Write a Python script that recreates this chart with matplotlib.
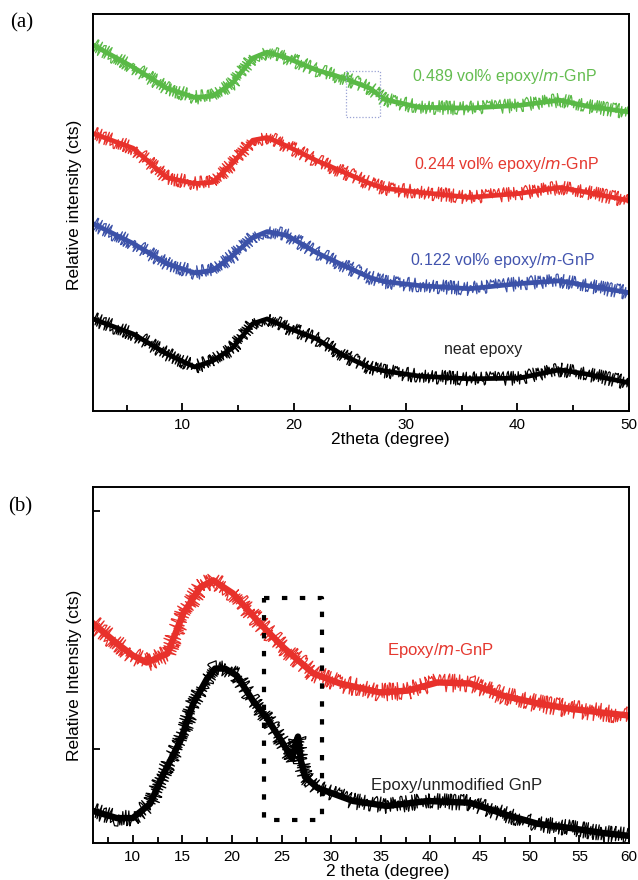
import matplotlib
matplotlib.use("Agg")
import matplotlib.pyplot as plt
from matplotlib.ticker import MultipleLocator, NullFormatter

plt.rcParams['font.family'] = ['Liberation Sans', 'DejaVu Sans']

# ---- Panel (a): XRD patterns of neat epoxy and epoxy/m-GnP composites ----
theta_a = [2.0, 5.6, 8.6, 11.1, 12.7, 14.5, 16.3, 17.6, 19.4, 22.0, 24.5,
           26.8, 28.1, 31.2, 35.7, 40.2, 43.8, 46.2, 50.0]
gnp_0489 = [92.2, 86.6, 81.3, 79.0, 79.3, 82.6, 88.9, 90.4, 88.9, 85.9, 83.8,
            81.3, 78.5, 76.5, 76.3, 77.0, 78.3, 76.8, 75.3]
gnp_0244 = [69.9, 66.2, 58.8, 57.3, 57.6, 62.4, 68.2, 68.9, 66.7, 63.1, 60.1,
            57.3, 56.1, 55.1, 53.8, 54.8, 56.3, 55.1, 53.0]
gnp_0122 = [47.2, 42.2, 37.1, 34.8, 35.4, 39.1, 43.7, 45.2, 44.2, 39.9, 36.6,
            33.6, 32.6, 31.6, 30.8, 32.1, 32.8, 31.6, 29.8]
neat_epoxy = [23.2, 19.4, 14.4, 11.1, 12.6, 15.9, 22.0, 23.2, 21.0, 18.2, 13.9,
              10.9, 10.1, 8.8, 8.1, 8.3, 10.4, 9.3, 7.1]
labels_a = ["0.489 vol% epoxy/$\\it{m}$-GnP", "0.244 vol% epoxy/$\\it{m}$-GnP",
            "0.122 vol% epoxy/$\\it{m}$-GnP", "neat epoxy"]

# ---- Panel (b): modified vs unmodified GnP ----
theta_b_mod = [6.0, 8.4, 10.0, 11.4, 13.5, 15.1, 16.8, 18.1, 20.1, 22.8, 25.2,
               28.2, 30.9, 34.9, 37.7, 40.7, 44.0, 47.3, 50.8, 54.1, 57.4, 60.0]
epoxy_mgnp = [61.7, 56.1, 52.7, 50.7, 53.2, 64.5, 71.8, 73.8, 70.1, 61.7, 54.9,
              47.6, 44.8, 42.3, 42.8, 45.1, 44.8, 41.4, 39.2, 37.7, 36.6, 35.8]
theta_b_unmod = [6.0, 8.4, 10.0, 11.75, 13.1, 14.8, 16.1, 17.5, 18.3, 19.3, 20.5,
                 22.1, 23.5, 25.15, 26.05, 26.45, 26.65, 26.95, 27.35, 28.6,
                 32.2, 35.6, 39.7, 44.0, 47.3, 50.8, 54.1, 57.4, 60.0]
epoxy_gnp = [9.0, 7.0, 7.0, 11.0, 19.4, 28.7, 39.2, 46.2, 49.0, 49.0, 47.0,
             40.0, 35.2, 27.9, 23.7, 28.2, 29.9, 23.1, 18.6, 15.5,
             11.8, 10.4, 11.8, 11.3, 8.2, 5.4, 4.2, 2.8, 2.0]
labels_b = ["Epoxy/$\\it{m}$-GnP", "Epoxy/unmodified GnP"]

GREEN, RED, BLUE, BLACK = "#59b946", "#e8312b", "#3b51a8", "#000000"

fig = plt.figure(figsize=(6.38, 8.8), dpi=100)

def style_axes(ax):
    for s in ax.spines.values():
        s.set_linewidth(1.4)
    ax.tick_params(which='both', direction='in', top=False, right=False,
                   labelsize=11, width=1.3, pad=5)
    ax.tick_params(which='major', length=6)
    ax.tick_params(which='minor', length=4)

def noisy_plot(ax, x, y, color, lw, amp):
    # solid core of the trace plus a jittered stroke for the counting noise
    ax.plot(x, y, color=color, lw=lw, solid_joinstyle='round')
    line, = ax.plot(x, y, color=color, lw=0.9)
    line.set_sketch_params(scale=amp, length=1.5, randomness=2)

# panel (a)
ax1 = fig.add_axes([93/638, 1-411/880, 536/638, 397/880])
for y, c in zip([gnp_0489, gnp_0244, gnp_0122, neat_epoxy], [GREEN, RED, BLUE, BLACK]):
    noisy_plot(ax1, theta_a, y, c, 3.4, 7.0)
ax1.set_xlim(2, 50)
ax1.set_ylim(0, 100)
ax1.xaxis.set_major_locator(MultipleLocator(10))
ax1.xaxis.set_minor_locator(MultipleLocator(5))
ax1.set_yticks([])
style_axes(ax1)
ax1.set_xlabel("2theta (degree)", fontsize=12.5)
ax1.xaxis.set_label_coords(0.554, -0.052)
ax1.set_ylabel("Relative intensity (cts)", fontsize=12.5)
ax1.yaxis.set_label_coords(-0.02, 0.52)
ax1.plot([24.7, 27.7, 27.7, 24.7, 24.7], [85.6, 85.6, 74.0, 74.0, 85.6],
         color="#9aa3d4", lw=0.9, ls=(0, (1, 1.5)))
for lab, c, xt, yt in zip(labels_a, ["#64bd50", "#e5382f", "#4254ae", "#222222"],
                          [38.85, 39.0, 38.7, 36.9], [84.3, 62.0, 38.0, 15.4]):
    ax1.text(xt, yt, lab, color=c, fontsize=11.5, ha='center', va='center')
fig.text(10/638, 1-23/880, "(a)", family=['Liberation Serif'], fontsize=15, va='center')

# panel (b)
ax2 = fig.add_axes([93/638, 1-843/880, 536/638, 356/880])
noisy_plot(ax2, theta_b_mod, epoxy_mgnp, RED, 4.6, 9.0)
noisy_plot(ax2, theta_b_unmod, epoxy_gnp, BLACK, 4.6, 8.0)
ax2.set_xlim(6, 60)
ax2.set_ylim(0, 100)
ax2.xaxis.set_major_locator(MultipleLocator(5))
ax2.xaxis.set_minor_locator(MultipleLocator(2.5))
ax2.set_yticks([26.5, 93.2])
ax2.yaxis.set_major_formatter(NullFormatter())
style_axes(ax2)
ax2.tick_params(axis='y', length=5)
ax2.set_xlabel("2 theta (degree)", fontsize=12.5)
ax2.xaxis.set_label_coords(0.55, -0.058)
ax2.set_ylabel("Relative Intensity (cts)", fontsize=12.5)
ax2.yaxis.set_label_coords(-0.02, 0.47)
ax2.plot([23.25, 29.1, 29.1, 23.25, 23.25], [68.7, 68.7, 6.5, 6.5, 68.7],
         color=BLACK, lw=3.0, ls=(0, (1.3, 3.0)), dash_capstyle='butt')
ax2.text(41.0, 54.1, labels_b[0], color="#e5382f", fontsize=12, ha='center', va='center')
ax2.text(42.6, 16.1, labels_b[1], color="#222222", fontsize=12, ha='center', va='center')
fig.text(8/638, 1-507/880, "(b)", family=['Liberation Serif'], fontsize=15, va='center')

fig.savefig("out.png", dpi=100)
